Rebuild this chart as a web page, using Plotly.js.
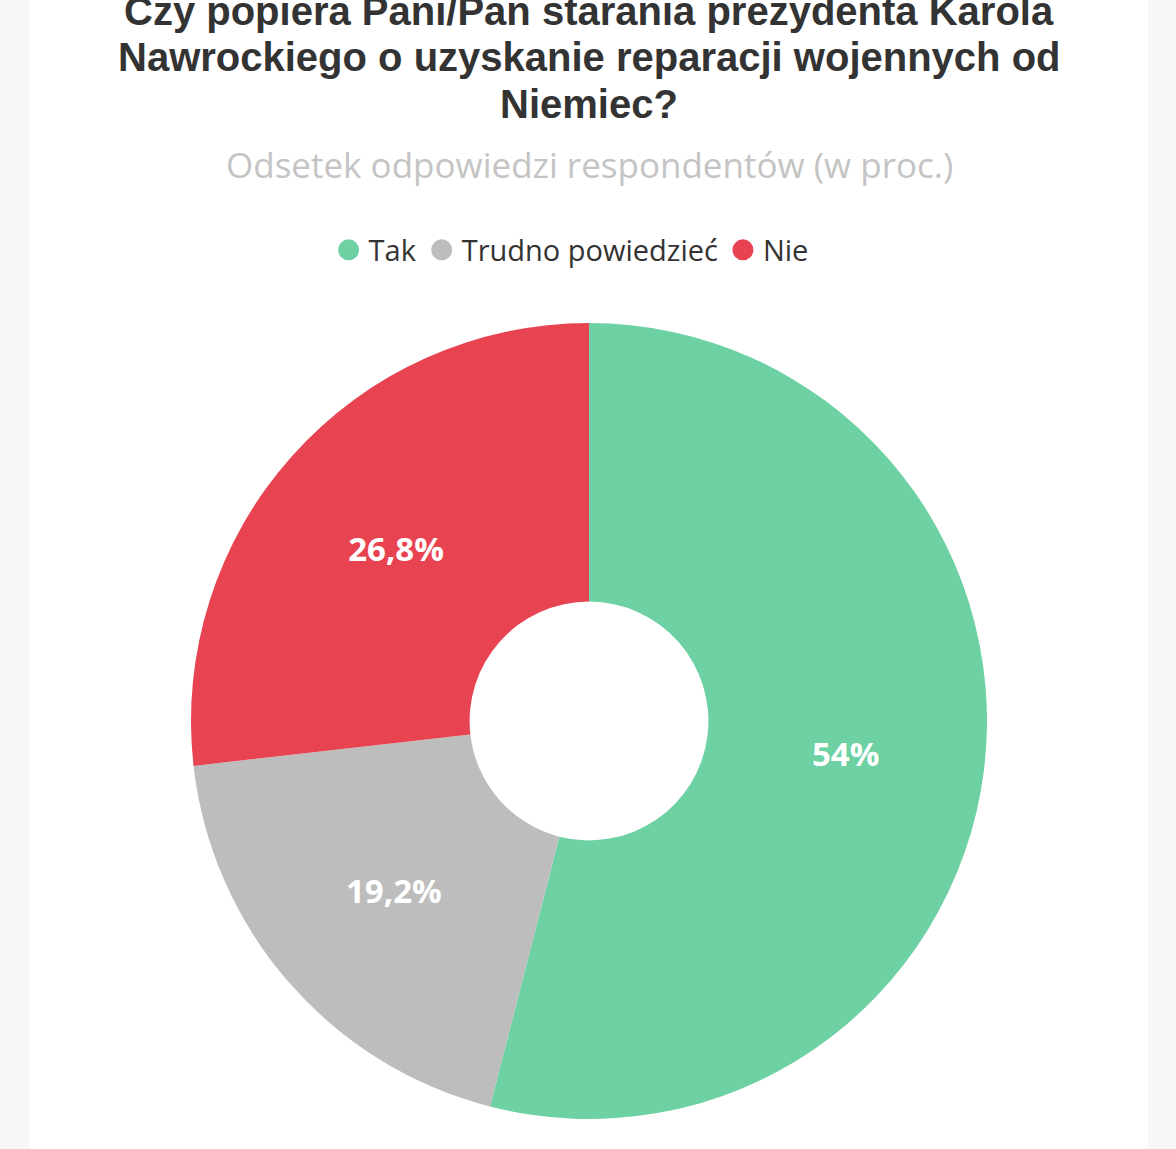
<!DOCTYPE html>
<html>
<head>
<meta charset="utf-8">
<script src="https://cdn.plot.ly/plotly-3.0.1.min.js"></script>
<style>
  html, body { margin: 0; padding: 0; background: #f8f8f8; overflow: hidden; }
  #card { position: absolute; left: 30px; top: 0; width: 1118px; height: 1149px; background: #ffffff; overflow: hidden; }
  #chart { position: absolute; left: 0; top: -40px; width: 1118px; height: 1189px; }
</style>
</head>
<body>
<div id="card"><div id="chart"></div></div>
<script>
// Survey answers (percent of respondents)
const categories = ['Tak', 'Trudno powiedzieć', 'Nie'];
const shares = [54, 19.2, 26.8];
const sliceColors = ['#6dd1a3', '#bdbdbd', '#e84351'];

const titleLines = [
  'Czy popiera Pani/Pan starania prezydenta Karola',
  'Nawrockiego o uzyskanie reparacji wojennych od',
  'Niemiec?'
];
const subtitleText = 'Odsetek odpowiedzi respondentów (w proc.)';

// plot area: 796 px tall, bottom edge at 1159 px from the top of the figure
const PLOT_BOTTOM = 1159, PLOT_H = 796;
const yPaper = px => (PLOT_BOTTOM - px) / PLOT_H;

const pie = {
  type: 'pie',
  labels: categories,
  values: shares,
  sort: false,
  direction: 'clockwise',
  rotation: 0,
  hole: 0.3,
  marker: { colors: sliceColors, line: { width: 0 } },
  textinfo: 'percent',
  textposition: 'inside',
  insidetextorientation: 'horizontal',
  textfont: { family: 'Open Sans, sans-serif', size: 33, color: '#ffffff', weight: 700 },
  showlegend: false,
  hoverinfo: 'label+percent'
};

// Round legend markers, one per category
const legendTraces = categories.map((c, i) => ({
  type: 'scatter',
  mode: 'markers',
  x: [null], y: [null],
  name: c,
  marker: { symbol: 'circle', size: 18, color: sliceColors[i], line: { width: 5, color: sliceColors[i] } },
  showlegend: true,
  hoverinfo: 'skip'
}));

const titleY = [51, 97, 144];
const titleAnnotations = titleLines.map((t, i) => ({
  text: '<b>' + t + '</b>',
  xref: 'paper', yref: 'paper',
  x: 0.5, xanchor: 'center',
  y: yPaper(titleY[i]), yanchor: 'middle',
  showarrow: false,
  font: { family: 'Liberation Sans, Arial, sans-serif', size: 40, color: '#333333' }
}));

const layout = {
  width: 1118,
  height: 1189,
  paper_bgcolor: '#ffffff',
  plot_bgcolor: 'rgba(0,0,0,0)',
  separators: ', ',
  margin: { l: 0, r: 0, t: 363, b: 30 },
  xaxis: { visible: false, domain: [0, 1] },
  yaxis: { visible: false },
  annotations: titleAnnotations.concat([{
    text: subtitleText,
    xref: 'paper', yref: 'paper',
    x: 0.5, xanchor: 'center',
    y: yPaper(205), yanchor: 'middle',
    showarrow: false,
    font: { family: 'Open Sans, sans-serif', size: 35, color: '#c4c4c4' }
  }]),
  legend: {
    orientation: 'h',
    x: 0.484, xanchor: 'center',
    y: yPaper(290), yanchor: 'middle',
    font: { family: 'Open Sans, sans-serif', size: 29, color: '#333333' },
    itemsizing: 'trace',
    itemgap: 20,
    traceorder: 'normal'
  }
};

Plotly.newPlot('chart', [pie].concat(legendTraces), layout, { displayModeBar: false, staticPlot: true });
</script>
</body>
</html>
